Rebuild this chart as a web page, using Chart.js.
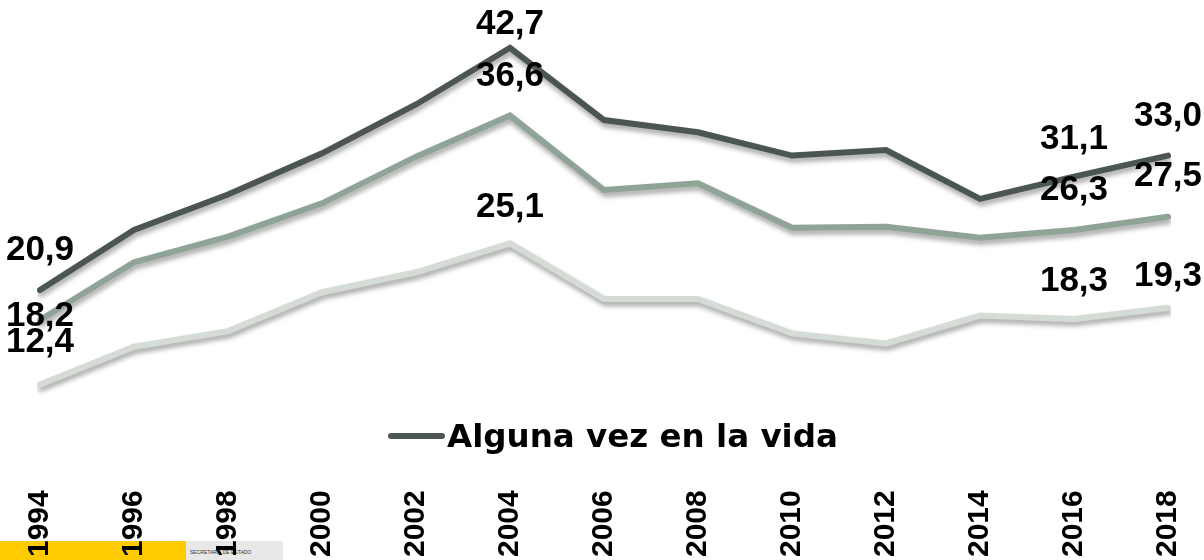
<!DOCTYPE html>
<html>
<head>
<meta charset="utf-8">
<script src="https://cdn.jsdelivr.net/npm/chart.js@4"></script>
<style>
    html, body { margin: 0; padding: 0; background: #fff; }
    #wrap { position: relative; width: 1204px; height: 560px; overflow: hidden; }
    #logoAmarillo { position: absolute; left: 0; top: 541px; width: 186px; height: 19px; background: #fecb00; }
    #logoGris { position: absolute; left: 186px; top: 541px; width: 97px; height: 19px; background: #e8e8e8;
        font: 5px "Liberation Sans", Arial, sans-serif; color: #333; box-sizing: border-box; padding: 8px 0 0 4px; }
    canvas { position: absolute; left: 0; top: 0; }
    #leyenda { position: absolute; left: 388px; top: 417px; height: 38px; display: flex; align-items: center;
        font: bold 32.5px "DejaVu Sans", Arial, sans-serif; color: #000; white-space: nowrap; }
    #leyenda span.linea { display: inline-block; width: 57px; height: 6px; border-radius: 3px; background: #4b5650; margin-right: 2px; }
</style>
</head>
<body>
<div id="wrap">
    <div id="logoAmarillo"></div>
    <div id="logoGris">SECRETARÍA DE ESTADO</div>
    <canvas id="graficoConsumo" width="1204" height="560"></canvas>
    <div id="leyenda"><span class="linea"></span>Alguna vez en la vida</div>
</div>
<script>
const anios = ['1994', '1996', '1998', '2000', '2002', '2004', '2006', '2008', '2010', '2012', '2014', '2016', '2018'];

const algunaVez = [20.9, 26.3, 29.5, 33.2, 37.6, 42.7, 36.2, 35.1, 33.0, 33.5, 29.1, 31.1, 33.0];
const ultimos12Meses = [18.2, 23.4, 25.7, 28.7, 32.9, 36.6, 29.9, 30.5, 26.5, 26.6, 25.6, 26.3, 27.5];
const ultimos30Dias = [12.4, 15.8, 17.2, 20.7, 22.5, 25.1, 20.1, 20.1, 17.0, 16.1, 18.6, 18.3, 19.3];

// solo se rotulan estos años
const indicesRotulados = [0, 5, 11, 12];

// desplazamiento vertical de cada rótulo (px hacia arriba), por serie
const subidaRotulos = [
    [40, 23, 37, 39],
    [4, 39, 40, 40],
    [42, 36, 38, 31]
];

// sombra bajo las líneas
const sombraLineas = {
    id: 'sombraLineas',
    beforeDatasetDraw(chart) {
        const ctx = chart.ctx;
        ctx.save();
        ctx.shadowColor = 'rgba(0,0,0,0.35)';
        ctx.shadowBlur = 5;
        ctx.shadowOffsetX = 1;
        ctx.shadowOffsetY = 4;
    },
    afterDatasetDraw(chart) {
        chart.ctx.restore();
    }
};

const rotulosDatos = {
    id: 'rotulosDatos',
    afterDatasetsDraw(chart) {
        const ctx = chart.ctx;
        ctx.save();
        ctx.font = 'bold 35px "Liberation Sans", Arial, sans-serif';
        ctx.fillStyle = '#000';
        ctx.textAlign = 'center';
        ctx.textBaseline = 'middle';
        chart.data.datasets.forEach((ds, d) => {
            const meta = chart.getDatasetMeta(d);
            indicesRotulados.forEach((i, k) => {
                const p = meta.data[i];
                const texto = ds.data[i].toFixed(1).replace('.', ',');
                ctx.fillText(texto, p.x, p.y - subidaRotulos[d][k]);
            });
        });
        ctx.restore();
    }
};

const ctx = document.getElementById('graficoConsumo').getContext('2d');
new Chart(ctx, {
    type: 'line',
    data: {
        labels: anios,
        datasets: [
            { label: 'Alguna vez en la vida', data: algunaVez, borderColor: '#4b5650' },
            { label: 'Últimos 12 meses', data: ultimos12Meses, borderColor: '#8fa396' },
            { label: 'Últimos 30 días', data: ultimos30Dias, borderColor: '#d5dcd6' }
        ]
    },
    options: {
        responsive: false,
        animation: false,
        layout: {
            padding: { left: 40, right: 36, top: 0, bottom: -5 }
        },
        elements: {
            line: { borderWidth: 6, tension: 0, borderCapStyle: 'round', borderJoinStyle: 'miter' },
            point: { radius: 0, hoverRadius: 0 }
        },
        plugins: {
            legend: { display: false },
            tooltip: { enabled: false }
        },
        scales: {
            y: {
                display: false,
                min: 3.6,
                max: 47.0
            },
            x: {
                offset: false,
                grid: { display: false, drawTicks: false },
                border: { display: false },
                afterFit(scale) {
                    scale.paddingLeft = 0;
                    scale.paddingRight = 0;
                },
                ticks: {
                    minRotation: 90,
                    maxRotation: 90,
                    padding: 8,
                    color: '#000',
                    font: { family: '"Liberation Sans", Arial, sans-serif', size: 30, weight: 'bold' }
                }
            }
        }
    },
    plugins: [sombraLineas, rotulosDatos]
});
</script>
</body>
</html>
